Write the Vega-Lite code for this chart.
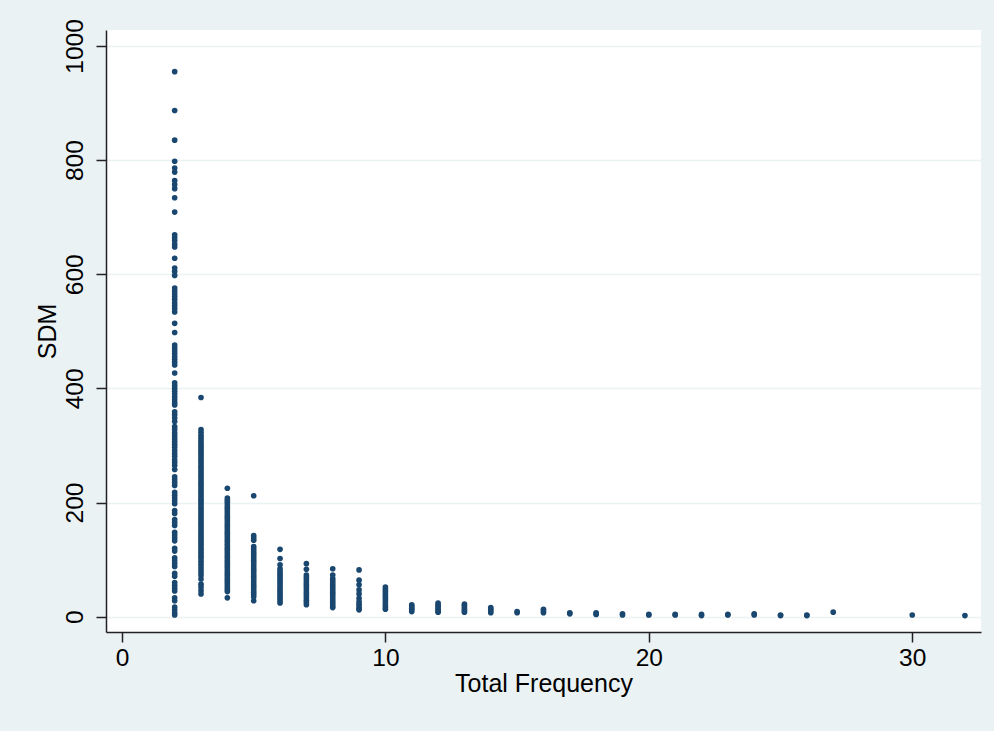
{
  "$schema": "https://vega.github.io/schema/vega-lite/v6.json",
  "width": 875,
  "height": 602,
  "autosize": {"type": "none"},
  "padding": {"left": 106, "top": 30, "right": 13, "bottom": 99},
  "background": "#EAF2F3",
  "config": {
    "view": {"fill": "white", "stroke": null},
    "font": "Liberation Sans"
  },
  "data": {
    "values": [
      {"freq":2,"sdm":955},{"freq":2,"sdm":887},{"freq":2,"sdm":835},{"freq":2,"sdm":798},{"freq":2,"sdm":786},{"freq":2,"sdm":779},{"freq":2,"sdm":764},{"freq":2,"sdm":757},{"freq":2,"sdm":750},{"freq":2,"sdm":734},{"freq":2,"sdm":709},{"freq":2,"sdm":669},{"freq":2,"sdm":664},{"freq":2,"sdm":659},{"freq":2,"sdm":653},{"freq":2,"sdm":648},{"freq":2,"sdm":628},{"freq":2,"sdm":611},{"freq":2,"sdm":605},{"freq":2,"sdm":598},{"freq":2,"sdm":576},{"freq":2,"sdm":571},{"freq":2,"sdm":566},{"freq":2,"sdm":561},{"freq":2,"sdm":556},{"freq":2,"sdm":550},{"freq":2,"sdm":545},{"freq":2,"sdm":540},{"freq":2,"sdm":534},{"freq":2,"sdm":514},{"freq":2,"sdm":498},{"freq":2,"sdm":476},{"freq":2,"sdm":471},{"freq":2,"sdm":466},{"freq":2,"sdm":461},{"freq":2,"sdm":456},{"freq":2,"sdm":451},{"freq":2,"sdm":446},{"freq":2,"sdm":441},{"freq":2,"sdm":427},{"freq":2,"sdm":410},{"freq":2,"sdm":405},{"freq":2,"sdm":400},{"freq":2,"sdm":395},{"freq":2,"sdm":390},{"freq":2,"sdm":385},{"freq":2,"sdm":380},{"freq":2,"sdm":375},{"freq":2,"sdm":371},{"freq":2,"sdm":359},{"freq":2,"sdm":354},{"freq":2,"sdm":348},{"freq":2,"sdm":342},{"freq":2,"sdm":333},{"freq":2,"sdm":328},{"freq":2,"sdm":322},{"freq":2,"sdm":317},{"freq":2,"sdm":312},{"freq":2,"sdm":307},{"freq":2,"sdm":302},{"freq":2,"sdm":297},{"freq":2,"sdm":291},{"freq":2,"sdm":286},{"freq":2,"sdm":281},{"freq":2,"sdm":275},{"freq":2,"sdm":270},{"freq":2,"sdm":265},{"freq":2,"sdm":258},{"freq":2,"sdm":245},{"freq":2,"sdm":240},{"freq":2,"sdm":235},{"freq":2,"sdm":230},{"freq":2,"sdm":218},{"freq":2,"sdm":213},{"freq":2,"sdm":208},{"freq":2,"sdm":203},{"freq":2,"sdm":198},{"freq":2,"sdm":186},{"freq":2,"sdm":181},{"freq":2,"sdm":170},{"freq":2,"sdm":165},{"freq":2,"sdm":160},{"freq":2,"sdm":148},{"freq":2,"sdm":143},{"freq":2,"sdm":138},{"freq":2,"sdm":133},{"freq":2,"sdm":120},{"freq":2,"sdm":115},{"freq":2,"sdm":103},{"freq":2,"sdm":98},{"freq":2,"sdm":93},{"freq":2,"sdm":88},{"freq":2,"sdm":76},{"freq":2,"sdm":71},{"freq":2,"sdm":60},{"freq":2,"sdm":55},{"freq":2,"sdm":50},{"freq":2,"sdm":45},{"freq":2,"sdm":33},{"freq":2,"sdm":28},{"freq":2,"sdm":17},{"freq":2,"sdm":12},{"freq":2,"sdm":7},{"freq":2,"sdm":3},
      {"freq":3,"sdm":384},{"freq":3,"sdm":328},{"freq":3,"sdm":323},{"freq":3,"sdm":318},{"freq":3,"sdm":314},{"freq":3,"sdm":310},{"freq":3,"sdm":306},{"freq":3,"sdm":302},{"freq":3,"sdm":298},{"freq":3,"sdm":294},{"freq":3,"sdm":290},{"freq":3,"sdm":286},{"freq":3,"sdm":282},{"freq":3,"sdm":278},{"freq":3,"sdm":274},{"freq":3,"sdm":270},{"freq":3,"sdm":266},{"freq":3,"sdm":262},{"freq":3,"sdm":258},{"freq":3,"sdm":254},{"freq":3,"sdm":250},{"freq":3,"sdm":246},{"freq":3,"sdm":242},{"freq":3,"sdm":238},{"freq":3,"sdm":234},{"freq":3,"sdm":230},{"freq":3,"sdm":226},{"freq":3,"sdm":222},{"freq":3,"sdm":218},{"freq":3,"sdm":214},{"freq":3,"sdm":210},{"freq":3,"sdm":206},{"freq":3,"sdm":202},{"freq":3,"sdm":198},{"freq":3,"sdm":194},{"freq":3,"sdm":190},{"freq":3,"sdm":186},{"freq":3,"sdm":182},{"freq":3,"sdm":178},{"freq":3,"sdm":174},{"freq":3,"sdm":170},{"freq":3,"sdm":166},{"freq":3,"sdm":162},{"freq":3,"sdm":158},{"freq":3,"sdm":154},{"freq":3,"sdm":150},{"freq":3,"sdm":146},{"freq":3,"sdm":142},{"freq":3,"sdm":138},{"freq":3,"sdm":134},{"freq":3,"sdm":130},{"freq":3,"sdm":126},{"freq":3,"sdm":122},{"freq":3,"sdm":118},{"freq":3,"sdm":114},{"freq":3,"sdm":110},{"freq":3,"sdm":106},{"freq":3,"sdm":102},{"freq":3,"sdm":97},{"freq":3,"sdm":92},{"freq":3,"sdm":87},{"freq":3,"sdm":82},{"freq":3,"sdm":77},{"freq":3,"sdm":72},{"freq":3,"sdm":66},{"freq":3,"sdm":57},{"freq":3,"sdm":52},{"freq":3,"sdm":46},{"freq":3,"sdm":40},
      {"freq":4,"sdm":225},{"freq":4,"sdm":208},{"freq":4,"sdm":204},{"freq":4,"sdm":200},{"freq":4,"sdm":196},{"freq":4,"sdm":192},{"freq":4,"sdm":188},{"freq":4,"sdm":184},{"freq":4,"sdm":180},{"freq":4,"sdm":176},{"freq":4,"sdm":172},{"freq":4,"sdm":168},{"freq":4,"sdm":164},{"freq":4,"sdm":160},{"freq":4,"sdm":156},{"freq":4,"sdm":152},{"freq":4,"sdm":148},{"freq":4,"sdm":144},{"freq":4,"sdm":140},{"freq":4,"sdm":136},{"freq":4,"sdm":132},{"freq":4,"sdm":128},{"freq":4,"sdm":124},{"freq":4,"sdm":120},{"freq":4,"sdm":116},{"freq":4,"sdm":112},{"freq":4,"sdm":108},{"freq":4,"sdm":104},{"freq":4,"sdm":100},{"freq":4,"sdm":96},{"freq":4,"sdm":92},{"freq":4,"sdm":88},{"freq":4,"sdm":84},{"freq":4,"sdm":80},{"freq":4,"sdm":76},{"freq":4,"sdm":72},{"freq":4,"sdm":68},{"freq":4,"sdm":64},{"freq":4,"sdm":60},{"freq":4,"sdm":56},{"freq":4,"sdm":52},{"freq":4,"sdm":48},{"freq":4,"sdm":44},{"freq":4,"sdm":33},
      {"freq":5,"sdm":212},{"freq":5,"sdm":142},{"freq":5,"sdm":138},{"freq":5,"sdm":134},{"freq":5,"sdm":123},{"freq":5,"sdm":119},{"freq":5,"sdm":115},{"freq":5,"sdm":111},{"freq":5,"sdm":107},{"freq":5,"sdm":103},{"freq":5,"sdm":99},{"freq":5,"sdm":95},{"freq":5,"sdm":91},{"freq":5,"sdm":87},{"freq":5,"sdm":83},{"freq":5,"sdm":79},{"freq":5,"sdm":75},{"freq":5,"sdm":71},{"freq":5,"sdm":67},{"freq":5,"sdm":63},{"freq":5,"sdm":59},{"freq":5,"sdm":55},{"freq":5,"sdm":51},{"freq":5,"sdm":47},{"freq":5,"sdm":43},{"freq":5,"sdm":39},{"freq":5,"sdm":35},{"freq":5,"sdm":28},
      {"freq":6,"sdm":118},{"freq":6,"sdm":102},{"freq":6,"sdm":91},{"freq":6,"sdm":84},{"freq":6,"sdm":80},{"freq":6,"sdm":76},{"freq":6,"sdm":72},{"freq":6,"sdm":68},{"freq":6,"sdm":64},{"freq":6,"sdm":60},{"freq":6,"sdm":56},{"freq":6,"sdm":52},{"freq":6,"sdm":48},{"freq":6,"sdm":44},{"freq":6,"sdm":40},{"freq":6,"sdm":36},{"freq":6,"sdm":32},{"freq":6,"sdm":28},{"freq":6,"sdm":24},
      {"freq":7,"sdm":93},{"freq":7,"sdm":83},{"freq":7,"sdm":73},{"freq":7,"sdm":69},{"freq":7,"sdm":65},{"freq":7,"sdm":61},{"freq":7,"sdm":57},{"freq":7,"sdm":53},{"freq":7,"sdm":49},{"freq":7,"sdm":45},{"freq":7,"sdm":41},{"freq":7,"sdm":37},{"freq":7,"sdm":33},{"freq":7,"sdm":29},{"freq":7,"sdm":25},{"freq":7,"sdm":21},
      {"freq":8,"sdm":84},{"freq":8,"sdm":73},{"freq":8,"sdm":67},{"freq":8,"sdm":63},{"freq":8,"sdm":59},{"freq":8,"sdm":55},{"freq":8,"sdm":51},{"freq":8,"sdm":47},{"freq":8,"sdm":43},{"freq":8,"sdm":39},{"freq":8,"sdm":35},{"freq":8,"sdm":31},{"freq":8,"sdm":27},{"freq":8,"sdm":23},{"freq":8,"sdm":19},{"freq":8,"sdm":16},
      {"freq":9,"sdm":82},{"freq":9,"sdm":64},{"freq":9,"sdm":56},{"freq":9,"sdm":47},{"freq":9,"sdm":40},{"freq":9,"sdm":32},{"freq":9,"sdm":26},{"freq":9,"sdm":22},{"freq":9,"sdm":18},{"freq":9,"sdm":14},{"freq":9,"sdm":12},
      {"freq":10,"sdm":52},{"freq":10,"sdm":48},{"freq":10,"sdm":44},{"freq":10,"sdm":40},{"freq":10,"sdm":36},{"freq":10,"sdm":32},{"freq":10,"sdm":28},{"freq":10,"sdm":24},{"freq":10,"sdm":20},{"freq":10,"sdm":16},{"freq":10,"sdm":13},
      {"freq":11,"sdm":21},{"freq":11,"sdm":18},{"freq":11,"sdm":15},{"freq":11,"sdm":12},{"freq":11,"sdm":9},
      {"freq":12,"sdm":24},{"freq":12,"sdm":21},{"freq":12,"sdm":18},{"freq":12,"sdm":15},{"freq":12,"sdm":12},{"freq":12,"sdm":9},{"freq":12,"sdm":8},
      {"freq":13,"sdm":22},{"freq":13,"sdm":19},{"freq":13,"sdm":16},{"freq":13,"sdm":13},{"freq":13,"sdm":10},{"freq":13,"sdm":8},
      {"freq":14,"sdm":16},{"freq":14,"sdm":13},{"freq":14,"sdm":10},{"freq":14,"sdm":7},
      {"freq":15,"sdm":9},{"freq":15,"sdm":7},
      {"freq":16,"sdm":13},{"freq":16,"sdm":10},{"freq":16,"sdm":7},
      {"freq":17,"sdm":7},{"freq":17,"sdm":5},
      {"freq":18,"sdm":7},{"freq":18,"sdm":5},{"freq":18,"sdm":4},
      {"freq":19,"sdm":5},{"freq":19,"sdm":3},
      {"freq":20,"sdm":4},{"freq":20,"sdm":3},
      {"freq":21,"sdm":4},{"freq":21,"sdm":3},
      {"freq":22,"sdm":4},{"freq":22,"sdm":2},
      {"freq":23,"sdm":4},{"freq":23,"sdm":3},
      {"freq":24,"sdm":5},{"freq":24,"sdm":3},
      {"freq":25,"sdm":3},{"freq":25,"sdm":2},
      {"freq":26,"sdm":3},{"freq":26,"sdm":2},
      {"freq":27,"sdm":8},
      {"freq":30,"sdm":3},
      {"freq":32,"sdm":2}
    ]
  },
  "mark": {"type": "circle", "color": "#1A476F", "size": 32, "opacity": 1},
  "encoding": {
    "x": {
      "field": "freq",
      "type": "quantitative",
      "title": "Total Frequency",
      "scale": {"domain": [-0.607, 32.61], "nice": false, "zero": false},
      "axis": {
        "values": [0, 10, 20, 30],
        "format": "d",
        "grid": false,
        "domainColor": "#222222",
        "domainWidth": 1.5,
        "tickColor": "#222222",
        "tickWidth": 1.5,
        "tickSize": 10,
        "labelFontSize": 24.5,
        "labelColor": "#000000",
        "labelPadding": 4,
        "titleFontSize": 25,
        "titleFontWeight": "normal",
        "titleColor": "#000000",
        "titleBaseline": "alphabetic",
        "titleY": 59
      }
    },
    "y": {
      "field": "sdm",
      "type": "quantitative",
      "title": "SDM",
      "scale": {"domain": [-26.8, 1028], "nice": false, "zero": false},
      "axis": {
        "values": [0, 200, 400, 600, 800, 1000],
        "format": "d",
        "grid": true,
        "gridColor": "#EAF2F3",
        "gridWidth": 1.5,
        "domainColor": "#222222",
        "domainWidth": 1.5,
        "tickColor": "#222222",
        "tickWidth": 1.5,
        "tickSize": 10,
        "labelFontSize": 24.5,
        "labelColor": "#000000",
        "labelAngle": -90,
        "labelAlign": "center",
        "labelBaseline": "alphabetic",
        "labelPadding": 14,
        "titleFontSize": 25,
        "titleFontWeight": "normal",
        "titleColor": "#000000",
        "titleAngle": -90,
        "titleBaseline": "alphabetic",
        "titleX": -51
      }
    }
  }
}
